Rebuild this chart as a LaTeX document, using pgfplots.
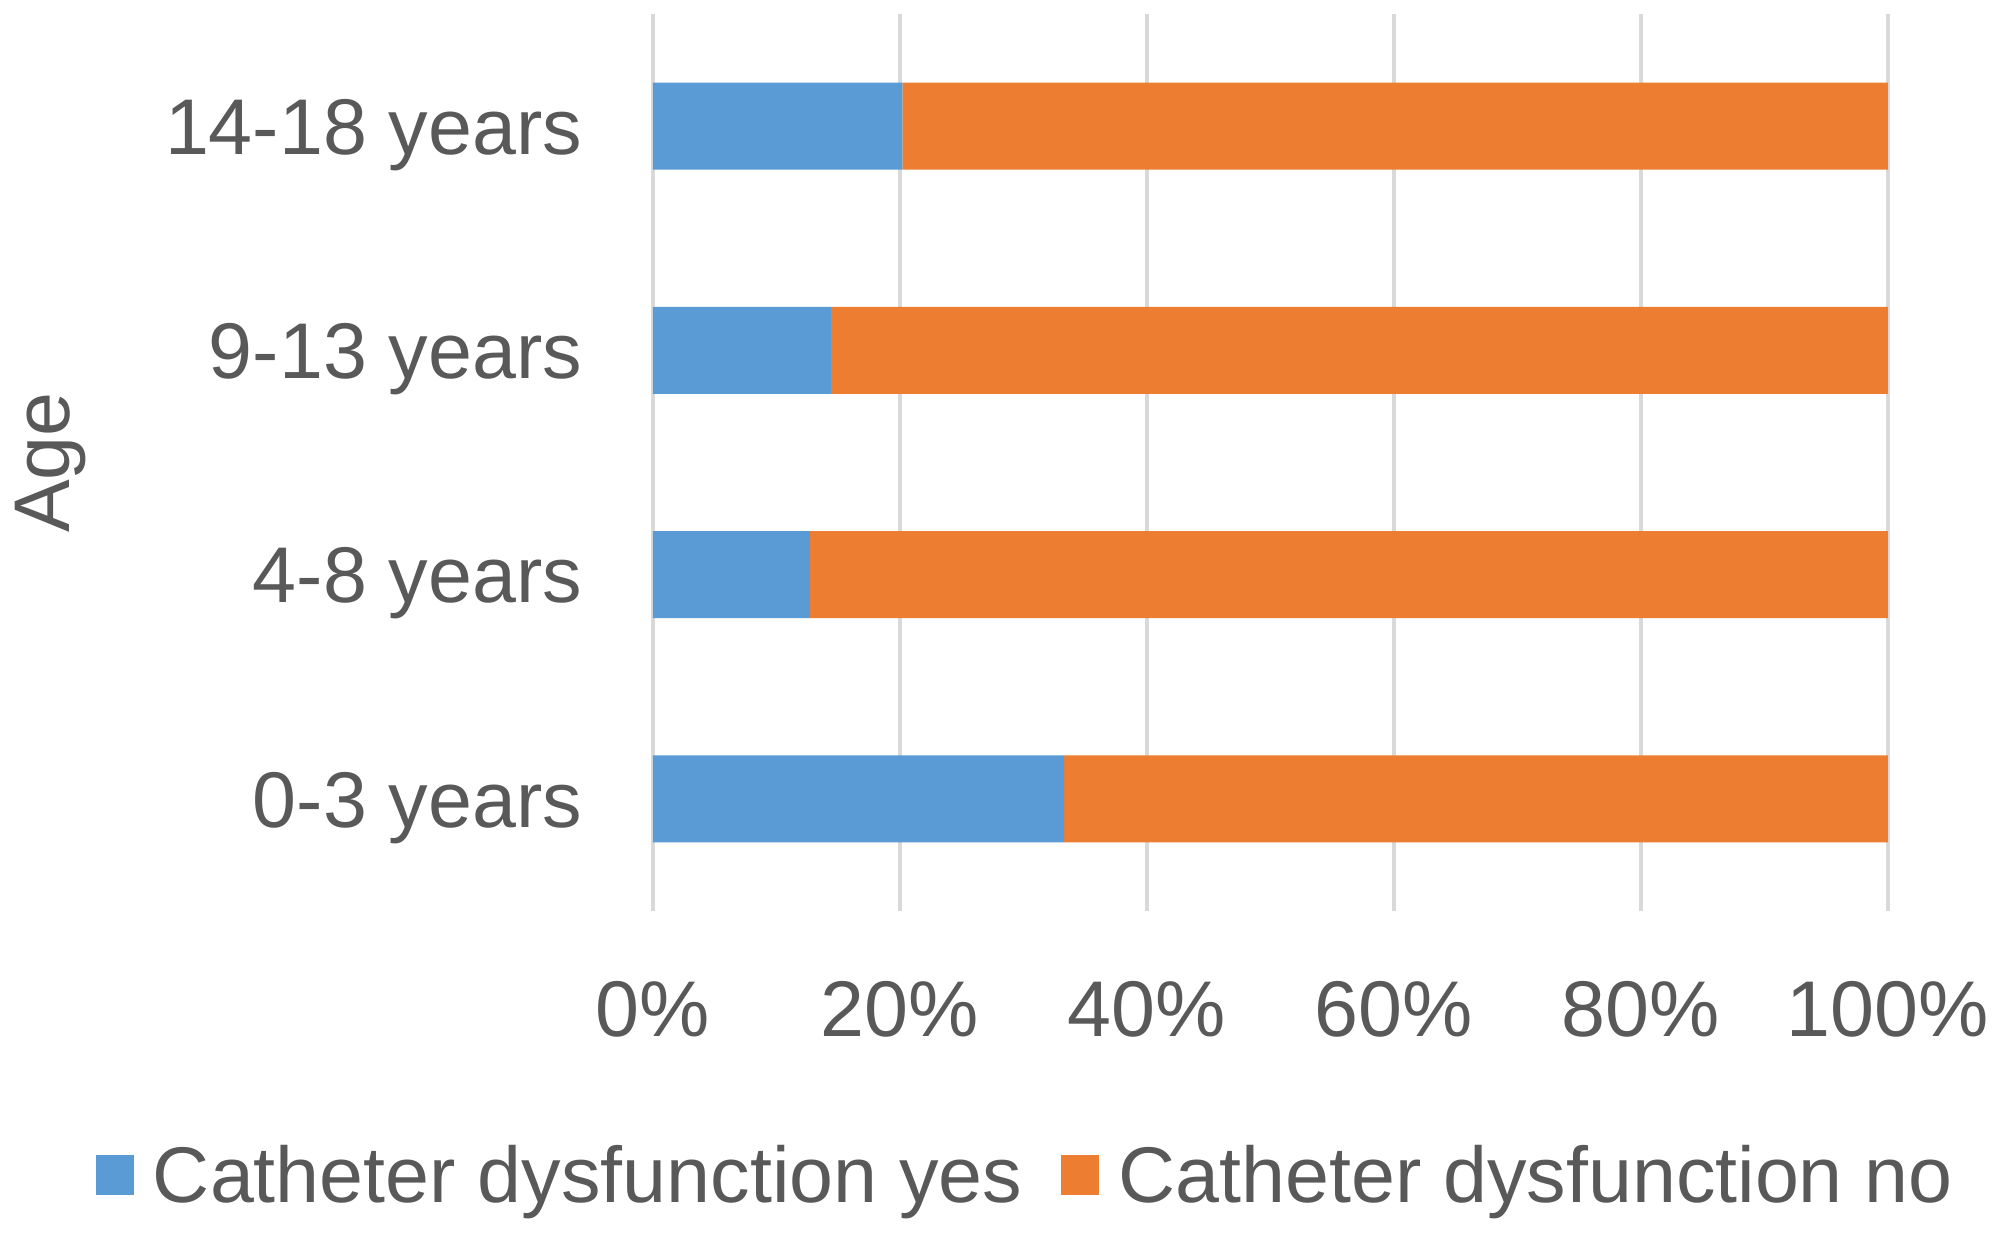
\documentclass[border=0pt]{standalone}
\usepackage{fontspec}
\setmainfont{Liberation Sans}
\usepackage{pgfplots}
\pgfplotsset{compat=1.18}
\definecolor{cblue}{HTML}{5B9BD5}
\definecolor{corange}{HTML}{ED7D31}
\definecolor{ctext}{HTML}{595959}
\definecolor{cgrid}{HTML}{D9D9D9}
\newcommand\fsz{\fontsize{19.75pt}{23.7pt}\selectfont}
\begin{document}
\begin{tikzpicture}
\begin{axis}[
  at={(0,0)}, anchor=south west,
  scale only axis, width=308.75pt, height=224.25pt,
  xmin=0, xmax=100, ymin=-0.5, ymax=3.5,
  xbar stacked, bar width=21.75pt,
  axis line style={draw=none},
  major tick length=0pt,
  xtick={0,20,40,60,80,100},
  xticklabels={0\%,20\%,40\%,60\%,80\%,100\%},
  ytick={0,1,2,3},
  yticklabels={0-3 years,4-8 years,9-13 years,14-18 years},
  xmajorgrids, grid style={cgrid, line width=1pt},
  tick label style={font=\fsz, color=ctext},
  xticklabel style={anchor=base, inner sep=0pt, yshift=-31.25pt},
  yticklabel style={anchor=base east, inner sep=0pt, xshift=-17.5pt, yshift=-7.07pt},
  ylabel={Age},
  every axis y label/.style={at={(rel axis cs:0,0.5)}, xshift=-145.9pt, rotate=90, anchor=base, inner sep=0pt, font=\fsz, color=ctext},
  legend columns=2,
  legend image code/.code={\fill[#1] (0pt,-4.7pt) rectangle (9.5pt,5.3pt);},
  legend style={draw=none, fill=none, inner sep=0pt, outer sep=0pt, font=\fsz, text=ctext,
    at={(rel axis cs:0,0)}, anchor=north west, xshift=-139.25pt, yshift=-58.5pt,
    nodes={inner sep=0pt, outer sep=0pt},
    /tikz/every odd column/.style={column sep=4.75pt},
    /tikz/every even column/.style={column sep=9.75pt}},
]
\addplot[fill=cblue, draw=none] coordinates {(33.3,0) (12.7,1) (14.4,2) (20.2,3)};
\addplot[fill=corange, draw=none] coordinates {(66.7,0) (87.3,1) (85.6,2) (79.8,3)};
\legend{Catheter dysfunction yes, Catheter dysfunction no}
\end{axis}
\pgfresetboundingbox
\path[use as bounding box] (-163.25pt,-81.25pt) rectangle (335.5pt,227.75pt);
\end{tikzpicture}
\end{document}
